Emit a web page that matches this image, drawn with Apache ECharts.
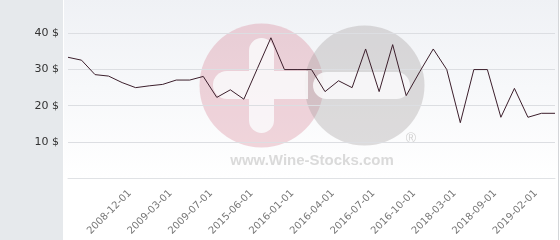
<!DOCTYPE html>
<html><head><meta charset="utf-8">
<script src="https://cdn.jsdelivr.net/npm/echarts@6/dist/echarts.min.js"></script>
<style>html,body{margin:0;padding:0;background:#fff}#c{width:560px;height:240px}</style>
</head><body><div id="c"></div>
<script>
const categories = ['2008-07-01','2008-08-01','2008-09-01','2008-10-01','2008-11-01','2008-12-01','2009-01-01','2009-02-01','2009-03-01','2009-04-01','2009-05-01','2009-07-01','2009-09-01','2015-03-01','2015-06-01','2015-09-01','2015-11-01','2016-01-01','2016-02-01','2016-03-01','2016-04-01','2016-05-01','2016-06-01','2016-07-01','2016-08-01','2016-09-01','2016-10-01','2017-06-01','2017-12-01','2018-03-01','2018-05-01','2018-07-01','2018-09-01','2018-11-01','2019-01-01','2019-02-01','2019-04-01'];
const prices = [33.4,32.6,28.6,28.2,26.4,25.0,25.5,25.9,27.1,27.1,28.1,22.3,24.4,21.8,30.3,38.8,30,30,30,23.9,26.9,25,35.7,23.9,36.9,22.8,29.4,35.7,30,15.3,30,30,16.8,24.8,16.8,17.9,17.9];
const yTicks = [10,20,30,40];
const shownLabels = ['2008-12-01','2009-03-01','2009-07-01','2015-06-01','2016-01-01','2016-04-01','2016-07-01','2016-10-01','2018-03-01','2018-09-01','2019-02-01'];
const unit = ' $';

const chart = echarts.init(document.getElementById('c'), null, {renderer:'canvas'});
chart.setOption({
  animation:false,
  backgroundColor:'#ffffff',
  grid:{left:68,right:5,top:-3,bottom:62,containLabel:false,show:false},
  graphic:[
    {type:'rect',z:-20,shape:{x:0,y:-2,width:63,height:244},style:{fill:'#e6e9ec'}},
    {type:'rect',z:-20,shape:{x:64,y:-2,width:494,height:180},style:{fill:new echarts.graphic.LinearGradient(0,0,0,1,[{offset:0,color:'#eff1f5'},{offset:1,color:'#ffffff'}])}},
    {type:'rect',z:-20,shape:{x:558,y:-2,width:1,height:244},style:{fill:'#d4d6d9'}},
    {type:'circle',z:-10,shape:{cx:261.5,cy:85.5,r:62},style:{fill:'rgba(213,119,140,0.3)'}},
    {type:'circle',z:-9,shape:{cx:364.5,cy:85.5,r:60},style:{fill:'rgba(165,162,162,0.36)'}},
    {type:'rect',z:-8,shape:{x:213,y:71,width:95,height:28,r:[14,0,0,14]},style:{fill:'rgba(250,250,252,0.85)'}},
    {type:'rect',z:-8,shape:{x:249,y:38,width:25,height:33,r:[12.5,12.5,0,0]},style:{fill:'rgba(250,250,252,0.85)'}},
    {type:'rect',z:-8,shape:{x:249,y:99,width:25,height:34,r:[0,0,12.5,12.5]},style:{fill:'rgba(250,250,252,0.85)'}},
    {type:'rect',z:-8,shape:{x:313,y:72,width:97,height:27,r:13.5},style:{fill:'rgba(250,250,252,0.85)'}},
    {type:'text',z:-8,style:{text:'www.Wine-Stocks.com',x:312,y:161,align:'center',verticalAlign:'middle',font:'bold 15px "Liberation Sans", Arial, sans-serif',fill:'#dadada'}},
    {type:'text',z:-8,style:{text:'®',x:411,y:139,align:'center',verticalAlign:'middle',font:'14px "Liberation Sans", Arial, sans-serif',fill:'#d2d2d2'}}
  ],
  xAxis:{
    type:'category',data:categories,boundaryGap:false,
    axisLine:{show:true,lineStyle:{color:'#e0e2e5',width:1}},
    axisTick:{show:false},
    axisLabel:{interval:(i,v)=>shownLabels.includes(v),rotate:45,margin:8,padding:[0,8,0,0],fontSize:10,color:'#777',fontFamily:'"DejaVu Sans", sans-serif'},
    splitLine:{show:false}
  },
  yAxis:{
    type:'value',min:0,max:49.25,interval:10,
    axisLine:{show:false},axisTick:{show:false},
    axisLabel:{margin:9,fontSize:11,color:'#333',fontFamily:'"DejaVu Sans", sans-serif',
      formatter:(v)=>yTicks.includes(v)?v+unit:'' ,showMaxLabel:false},
    splitLine:{show:true,showMaxLine:false,lineStyle:{color:'#dcdee2',width:1}}
  },
  series:[{type:'line',data:prices,symbol:'none',lineStyle:{color:'#3c1f2c',width:1},z:5}]
});
</script></body></html>
